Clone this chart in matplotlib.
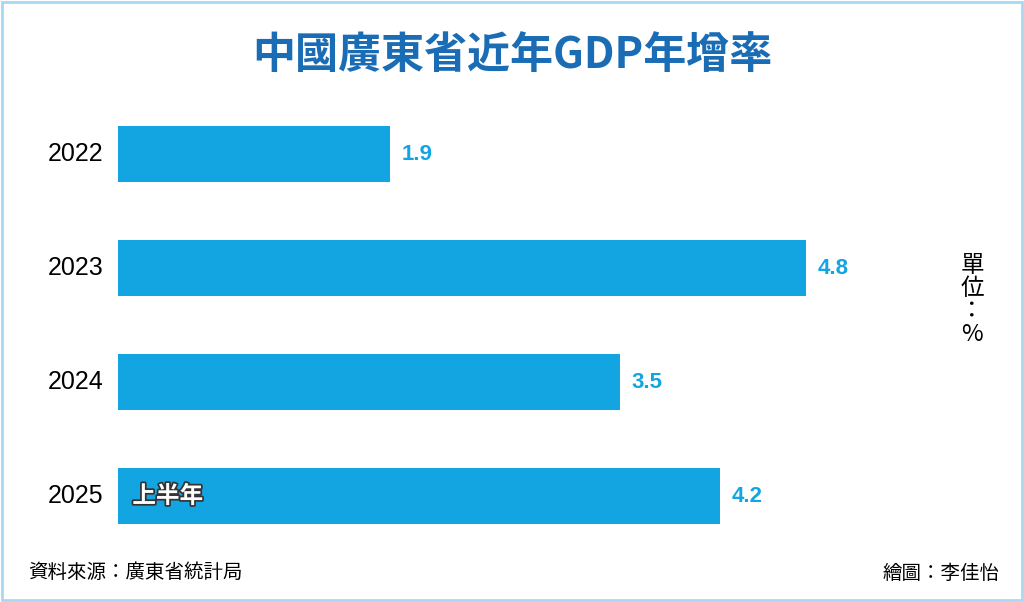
import matplotlib
matplotlib.use("Agg")
import matplotlib.pyplot as plt
import matplotlib.patheffects as pe
from matplotlib.patches import Rectangle
from matplotlib import font_manager as fm

cjk = [f.name for f in fm.fontManager.ttflist if "CJK" in f.name]
pref = [n for n in ["Noto Sans CJK TC", "Noto Sans CJK JP", "Noto Sans CJK SC"] if n in cjk] or cjk
cjk_font = pref[0] if pref else "DejaVu Sans"
plt.rcParams["font.family"] = [cjk_font, "DejaVu Sans"]

years = ["2022", "2023", "2024", "2025"]
values = [1.9, 4.8, 3.5, 4.2]
value_labels = ["1.9", "4.8", "3.5", "4.2"]

W, H = 1024, 602
fig = plt.figure(figsize=(W/100, H/100), dpi=100)
fig.patches.append(Rectangle((0.002, 0.003), 0.996, 0.994, transform=fig.transFigure,
                             fill=False, edgecolor="#a8d8f0", linewidth=2))

blue = "#12a5e2"
ax = fig.add_axes([118/W, (H-553)/H, 860/W, 456/H])
ax.set_xlim(0, 6)
ax.set_ylim(3.5, -0.5)
ax.axis("off")
ypos = list(range(len(years)))
ax.barh(ypos, values, height=0.49, color=blue)
for y, v, lab, yr in zip(ypos, values, value_labels, years):
    ax.text(v + 0.08, y, lab, color=blue, fontsize=16, fontweight="bold", va="center", ha="left",
            family="Liberation Sans")
    ax.text(-0.1, y, yr, color="black", fontsize=18, va="center", ha="right", family="Liberation Sans")
ax.text(0.1, 3, "上半年", family=cjk_font, color="white", fontsize=17, fontweight="bold",
        va="center", ha="left",
        path_effects=[pe.withStroke(linewidth=2.5, foreground="#333333")])

fig.text(0.5, (H-55)/H, "中國廣東省近年GDP年增率", family=cjk_font, color="#1a6db5", fontsize=31,
         fontweight="bold", ha="center", va="center")
fig.text(972/W, (H-300)/H, "單\n位\n：\n%", family=cjk_font, fontsize=17, ha="center",
         va="center", linespacing=1.0)
fig.text(28/W, (H-573)/H, "資料來源：廣東省統計局", family=cjk_font, fontsize=14, ha="left", va="center")
fig.text(1000/W, (H-573)/H, "繪圖：李佳怡", family=cjk_font, fontsize=14, ha="right", va="center")

fig.savefig("out.png", dpi=100)
